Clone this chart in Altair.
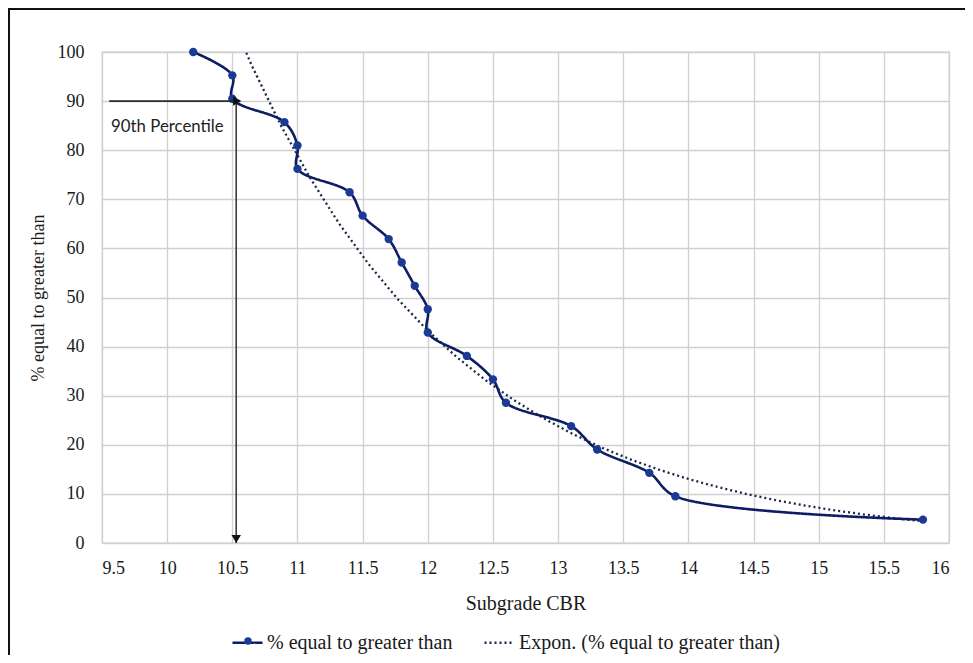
import altair as alt
import pandas as pd

# ---- data ----
cbr = [10.2, 10.5, 10.5, 10.9, 11.0, 11.0, 11.4, 11.5, 11.7, 11.8, 11.9,
       12.0, 12.0, 12.3, 12.5, 12.6, 13.1, 13.3, 13.7, 13.9, 15.8]
pct = [100.0, 95.24, 90.48, 85.71, 80.95, 76.19, 71.43, 66.67, 61.90, 57.14, 52.38,
       47.62, 42.86, 38.10, 33.33, 28.57, 23.81, 19.05, 14.29, 9.52, 4.76]
x_ticks = [9.5, 10, 10.5, 11, 11.5, 12, 12.5, 13, 13.5, 14, 14.5, 15, 15.5, 16]
y_ticks = [0, 10, 20, 30, 40, 50, 60, 70, 80, 90, 100]
series_names = ["% equal to greater than", "Expon. (% equal to greater than)"]
trend_extent = [10.2, 15.8]

# 90th percentile annotation
pctl_label = "90th Percentile"
pctl_cbr = 10.53
pctl_pct = 90
h_arrow_start = [9.555]
v_arrow_end = [0]
label_pos = [9.57, 84.8]

SERIF = "Liberation Serif"
LINE_C = "#0D1D63"
DOT_C = "#1C3A94"
TREND_C = "#1E2748"

df = pd.DataFrame({"cbr": cbr, "pct": pct, "series": series_names[0],
                   "marker": series_names[0]})

xscale = alt.Scale(domain=[x_ticks[0], x_ticks[-1]], nice=False, zero=False)
yscale = alt.Scale(domain=[y_ticks[0], y_ticks[-1]], nice=False, zero=False)
xenc = alt.X("cbr:Q", scale=xscale, title="Subgrade CBR",
             axis=alt.Axis(values=x_ticks, format="~g", titleFontSize=20))
yenc = alt.Y("pct:Q", scale=yscale, title="% equal to greater than",
             axis=alt.Axis(values=y_ticks, format="d"))

color_scale = alt.Scale(domain=series_names, range=[LINE_C, TREND_C])
dash_scale = alt.Scale(domain=series_names, range=[[1, 0], [2, 3]])

main_legend = alt.Legend(
    orient="none", legendX=129, legendY=574, direction="horizontal",
    symbolType="stroke", symbolSize=900, symbolStrokeWidth=2.5,
    labelFont=SERIF, labelFontSize=20, labelColor="#1a1a1a", labelLimit=0,
    columnPadding=26, labelOffset=3, title=None,
)

base = alt.Chart(df)

line = base.mark_line(interpolate="catmull-rom", strokeWidth=2.6).encode(
    x=xenc,
    y=yenc,
    order=alt.Order("pct:Q", sort="descending"),
    color=alt.Color("series:N", scale=color_scale, legend=main_legend),
    strokeDash=alt.StrokeDash("series:N", scale=dash_scale, legend=main_legend),
)

trend = base.transform_calculate(
    ln_pct="log(datum.pct)"
).transform_regression(
    "cbr", "ln_pct", method="poly", order=1, extent=trend_extent
).transform_calculate(
    pct="exp(datum.ln_pct)",
    series="'" + series_names[1] + "'",
).mark_line(strokeWidth=2.3, clip=True).encode(
    x="cbr:Q",
    y="pct:Q",
    color=alt.Color("series:N", scale=color_scale, legend=main_legend),
    strokeDash=alt.StrokeDash("series:N", scale=dash_scale, legend=main_legend),
)

# markers; their own legend only supplies the dot on the first legend symbol
dot_legend = alt.Legend(
    orient="none", legendX=142, legendY=585, symbolType="circle", symbolSize=55,
    symbolFillColor=DOT_C, symbolStrokeColor=DOT_C, symbolStrokeWidth=0,
    labelOpacity=0, labelFontSize=1, title=None,
)
points = base.mark_point(size=70, filled=True, opacity=1, color=DOT_C).encode(
    x="cbr:Q", y="pct:Q",
    shape=alt.Shape("marker:N", scale=alt.Scale(domain=[series_names[0]], range=["circle"]),
                    legend=dot_legend),
)

# annotation arrows
h_df = pd.DataFrame({"x": h_arrow_start, "x2": [pctl_cbr], "y": [pctl_pct]})
v_df = pd.DataFrame({"x": [pctl_cbr], "y": [pctl_pct], "y2": v_arrow_end})

h_rule = alt.Chart(h_df).mark_rule(color="#2a2a2a", strokeWidth=1.6).encode(
    x="x:Q", x2="x2:Q", y="y:Q")
v_rule = alt.Chart(v_df).mark_rule(color="#3a3a3a", strokeWidth=1.6).encode(
    x="x:Q", y="y:Q", y2="y2:Q")
h_head = alt.Chart(h_df).mark_point(shape="triangle-right", filled=True, size=90,
                                   color="#111111", opacity=1, xOffset=1).encode(
    x="x2:Q", y="y:Q")
v_head = alt.Chart(v_df).mark_point(shape="triangle-down", filled=True, size=90,
                                   color="#111111", opacity=1, yOffset=-4).encode(
    x="x:Q", y="y2:Q")

lab_df = pd.DataFrame({"x": [label_pos[0]], "y": [label_pos[1]], "t": [pctl_label]})
label = alt.Chart(lab_df).mark_text(align="left", baseline="middle", font="Lato",
                                    fontSize=16.8, color="#222222").encode(
    x="x:Q", y="y:Q", text="t:N")

# outer frame of the chart object
frame = alt.Chart(lab_df).mark_rect(filled=False, stroke="#111111", strokeWidth=2,
                                    clip=False).encode(
    x=alt.value(-93), x2=alt.value(1100), y=alt.value(-43), y2=alt.value(900))

chart = alt.layer(
    frame, trend, line, points, h_rule, v_rule, h_head, v_head, label
).properties(
    width=847, height=491,
    autosize=alt.AutoSizeParams(type="none"),
    padding={"left": 94, "top": 44, "right": 16, "bottom": 112},
).configure_view(
    stroke="#D0D0D0", strokeWidth=1.3
).configure_axis(
    grid=True, gridColor="#D0D0D0", gridWidth=1.3, domain=False, ticks=False,
    labelFont=SERIF, labelFontSize=18, labelColor="#1a1a1a",
    titleFont=SERIF, titleFontSize=18, titleFontWeight="normal", titleColor="#1a1a1a",
).configure_axisX(
    labelPadding=16, titlePadding=16
).configure_axisY(
    labelPadding=18, titlePadding=10
)

chart.save("out.html", embed_options={"renderer": "svg", "actions": False})
